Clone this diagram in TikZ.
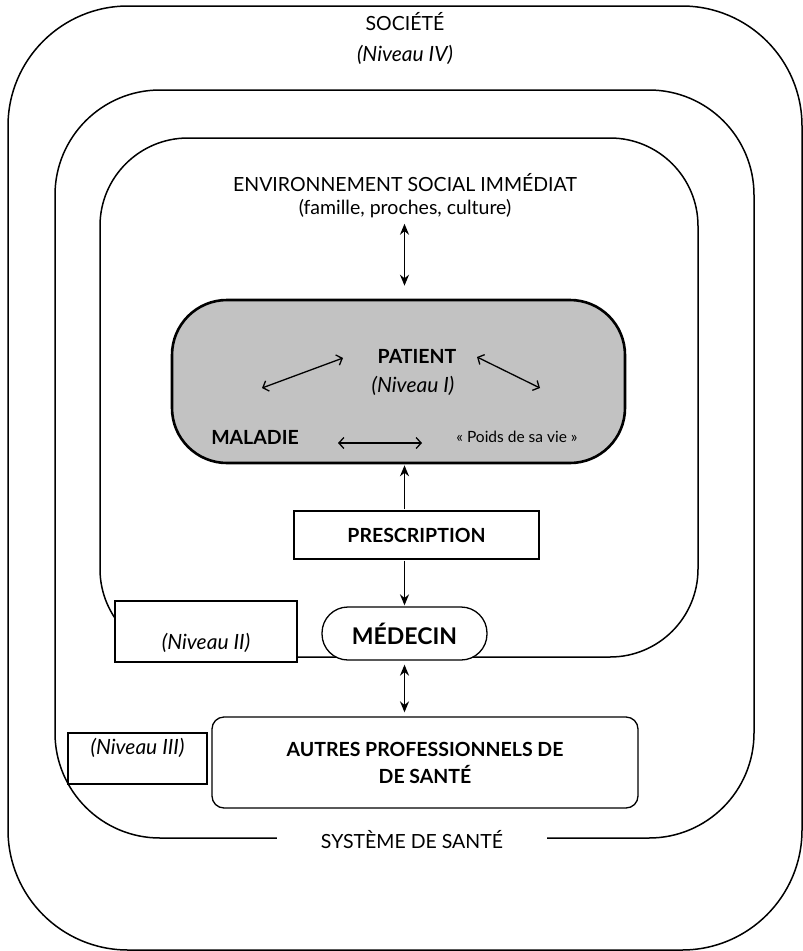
\documentclass[tikz,border=0pt]{standalone}
\usepackage{fontspec}
\setmainfont{Lato}
\usetikzlibrary{arrows.meta,positioning}
\tikzset{
	%Define standard arrow tip
	>={Stealth[length=11pt,width=9pt]},
	%Define style for the rings
	anneau/.style={draw=black, line width=1.5pt, rounded corners=#1},
	%Define style for boxes
	cadre/.style={
		rectangle,
		draw=black, line width=1.3pt,
		fill=white,
		inner sep=0pt},
	titre/.style={font=\fontsize{19.5}{23}\selectfont, align=center},
	niveau/.style={font=\fontsize{21}{24}\selectfont\itshape},
	gras/.style={font=\fontsize{19.5}{27}\selectfont\bfseries},
	% Define arrow style
	fleche/.style={
		line width=1.6pt,
		shorten <=1pt,
		shorten >=1pt},
	lien/.style={
		<->,
		>={Straight Barb[length=5pt,width=11pt]},
		line width=1.3pt}
}
\begin{document}
\begin{tikzpicture}[x=1pt,y=-1pt]
	\useasboundingbox (0,0) rectangle (803,951);
	% rings
	\draw[anneau=120pt] (8,6) rectangle (802,950);
	\draw[anneau=105pt] (55,90) rectangle (754,838);
	\draw[anneau=88pt] (100,138) rectangle (698,657);
	% node Societe
	\node[titre] (societe) at (405,22) {SOCIÉTÉ};
	\node[niveau] (niv4) at (405,55) {(Niveau IV)};
	% node Environnement
	\node[titre] (envsocial) at (405,196) {ENVIRONNEMENT SOCIAL IMMÉDIAT\\(famille, proches, culture)};
	% node Patient
	\node[cadre, fill=black!24, line width=2.6pt, rounded corners=55pt,
		minimum width=453pt, minimum height=163pt] (patientbox) at (398.5,381.5) {};
	\node[gras] (patient) at (417,356) {PATIENT};
	\node[niveau] (niv1) at (413,386) {(Niveau I)};
	\node[gras] (maladie) at (255,437) {MALADIE};
	\node[font=\fontsize{15.5}{18}\selectfont] (poids) at (517,437) {« Poids de sa vie »};
	\coordinate (m1) at (262,388);
	\coordinate (p1) at (343,358);
	\coordinate (p2) at (477,357);
	\coordinate (v1) at (540,388);
	\coordinate (m2) at (338,443);
	\coordinate (v2) at (422,443);
	\draw[lien] (m1) -- (p1);
	\draw[lien] (p2) -- (v1);
	\draw[lien] (m2) -- (v2);
	% node Prescription
	\node[cadre, gras, minimum width=245pt, minimum height=48pt] (prescription) at (416.5,535) {PRESCRIPTION};
	% node Medecin
	\node[cadre, rounded corners=26pt, minimum width=165pt, minimum height=53pt,
		font=\fontsize{23}{26}\selectfont\bfseries] (medecin) at (404.5,633.5) {MÉDECIN};
	% node Niveau II
	\node[cadre, minimum width=182pt, minimum height=61pt] (niv2box) at (206,631.5) {};
	\node[niveau] (niv2) at (206,643) {(Niveau II)};
	% node Autres professionnels
	\node[cadre, rounded corners=12pt, minimum width=426pt, minimum height=91pt,
		gras, align=center] (autres) at (425,762.5) {AUTRES PROFESSIONNELS DE\\DE SANTÉ};
	% node Niveau III
	\node[cadre, minimum width=139pt, minimum height=51pt] (niv3box) at (137.5,758.5) {};
	\node[niveau] (niv3) at (137.5,748) {(Niveau III)};
	% node Systeme de sante
	\node[titre, fill=white, inner xsep=44pt] (systeme) at (412,840) {SYSTÈME DE SANTÉ};
	% arrows
	\draw[fleche, <->, shorten <=2pt, shorten >=13pt] (envsocial.south -| medecin.center) -- (patientbox.north -| medecin.center);
	\draw[fleche, ->] (prescription.north -| medecin.center) -- (patientbox.south -| medecin.center);
	\draw[fleche, ->] (prescription.south -| medecin.center) -- (medecin.north);
	\draw[fleche, <->, shorten <=4pt, shorten >=4pt] (medecin.south) -- (autres.north -| medecin.center);
\end{tikzpicture}
\end{document}
